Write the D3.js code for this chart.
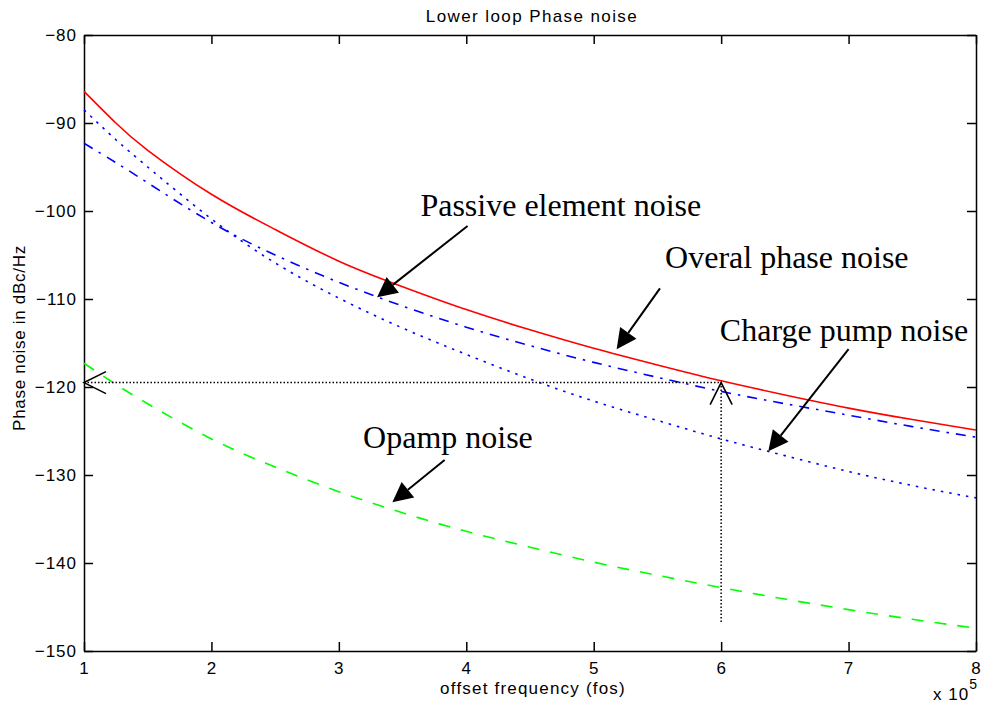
<!DOCTYPE html>
<html>
<head>
<meta charset="utf-8">
<script src="https://cdn.jsdelivr.net/npm/d3@7"></script>
<style>
  body { margin: 0; background: #fff; }
  svg { display: block; }
</style>
</head>
<body>
<div id="chart"></div>
<script>
// offset frequency in units of 1e5
const freq = [1, 1.25, 1.5, 2, 2.5, 3, 3.5, 4, 4.5, 5, 5.5, 6, 6.5, 7, 7.5, 8];
// phase noise in dBc/Hz
const overall = [-86.4, -90.0, -93.1, -98.1, -102.1, -105.7, -108.6, -111.2, -113.5, -115.6, -117.5, -119.3, -120.9, -122.4, -123.7, -124.9];
const passive = [-92.3, -94.5, -96.8, -101.3, -105.0, -108.1, -110.8, -113.2, -115.3, -117.2, -118.9, -120.5, -121.9, -123.2, -124.5, -125.7];
const chargePump = [-88.5, -91.9, -95.0, -100.9, -105.9, -109.9, -113.3, -116.3, -119.1, -121.6, -123.8, -125.9, -127.8, -129.6, -131.2, -132.6];
const opamp = [-117.3, -119.7, -121.9, -125.9, -129.1, -131.9, -134.3, -136.4, -138.2, -139.9, -141.4, -142.8, -144.1, -145.3, -146.4, -147.4];

const xTicks = [1, 2, 3, 4, 5, 6, 7, 8];
const yTicks = [-150, -140, -130, -120, -110, -100, -90, -80];

// callouts: text anchor and arrow (start -> tip), in data units
const labels = ["Passive element noise", "Overal phase noise", "Charge pump noise", "Opamp noise"];
const labelPos = [[3.64, -100.6], [5.56, -106.5], [5.99, -114.8], [3.19, -126.9]];
const arrowFrom = [[4.01, -101.7], [5.52, -108.8], [7.0, -115.7], [3.83, -128.3]];
const arrowTo = [[3.30, -109.8], [5.18, -115.7], [6.37, -127.3], [3.42, -133.1]];

// the -120 dBc/Hz read-off point
const markF = 6, markV = -119.5, markBottom = -146.7;

const width = 983, height = 704,
      margin = ({ top: 35, right: 7, bottom: 53, left: 84 });

const svg = d3.select("#chart")
    .append("svg")
    .attr("width", width)
    .attr("height", height)
    .attr("viewBox", [0, 0, width, height]);

const x = d3.scaleLinear()
    .domain([1, 8])
    .range([margin.left, width - margin.right]);

const y = d3.scaleLinear()
    .domain([-150, -80])
    .range([height - margin.bottom, margin.top]);

const axisFont = "'Liberation Sans', Arial, sans-serif";
const tick = 9;

function styleAxis(g) {
    g.attr("font-family", axisFont).attr("font-size", 17);
    g.selectAll("text").attr("fill", "#000").attr("letter-spacing", 1);
    g.selectAll("line").attr("stroke", "#000").attr("stroke-width", 1.5);
    g.select(".domain").attr("stroke", "#000").attr("stroke-width", 1.5);
}

// bottom + left with labels, ticks pointing inwards
svg.append("g")
    .attr("transform", `translate(0,${y(-150)})`)
    .call(d3.axisBottom(x).tickValues(xTicks).tickFormat(d3.format("d"))
        .tickSizeInner(-tick).tickSizeOuter(0).tickPadding(11))
    .call(styleAxis);

svg.append("g")
    .attr("transform", `translate(${x(1)},0)`)
    .call(d3.axisLeft(y).tickValues(yTicks).tickSizeInner(-tick).tickSizeOuter(0).tickPadding(7))
    .call(styleAxis);

// top + right, box only
svg.append("g")
    .attr("transform", `translate(0,${y(-80)})`)
    .call(d3.axisTop(x).tickValues(xTicks).tickSizeInner(-tick).tickSizeOuter(0).tickFormat(""))
    .call(styleAxis);

svg.append("g")
    .attr("transform", `translate(${x(8)},0)`)
    .call(d3.axisRight(y).tickValues(yTicks).tickSizeInner(-tick).tickSizeOuter(0).tickFormat(""))
    .call(styleAxis);

// noise curves
const series = [
    { values: opamp, color: "#00ff00", dash: "12,11" },
    { values: chargePump, color: "#0000ff", dash: "2.5,6" },
    { values: passive, color: "#0000ff", dash: "10,7,2.5,7" },
    { values: overall, color: "#ff0000", dash: null }
];

const line = d3.line()
    .x((d, i) => x(freq[i]))
    .y(d => y(d))
    .curve(d3.curveNatural);

svg.selectAll(".curve")
    .data(series)
    .join("path")
    .attr("class", "curve")
    .attr("fill", "none")
    .attr("stroke", d => d.color)
    .attr("stroke-width", 1.6)
    .attr("stroke-dasharray", d => d.dash)
    .attr("d", d => line(d.values));

// dotted read-off lines
svg.append("path")
    .attr("fill", "none")
    .attr("stroke", "#000")
    .attr("stroke-width", 1.5)
    .attr("stroke-dasharray", "1.5,2")
    .attr("d", `M${x(1)},${y(markV)}H${x(markF)}M${x(markF)},${y(markV)}V${y(markBottom)}`);

// open arrowheads at the axis and at the curve
const px = x(1), py = y(markV), qx = x(markF), qy = y(markV);
svg.append("path")
    .attr("fill", "none")
    .attr("stroke", "#000")
    .attr("stroke-width", 1.6)
    .attr("d", `M${px + 22},${py - 11}L${px},${py}L${px + 22},${py + 11}` +
               `M${qx - 11},${qy + 22}L${qx},${qy}L${qx + 11},${qy + 22}`);

// callout arrows
const arrows = svg.append("g");
arrowFrom.forEach((a, i) => {
    const x1 = x(a[0]), y1 = y(a[1]);
    const x2 = x(arrowTo[i][0]), y2 = y(arrowTo[i][1]);
    const ang = Math.atan2(y2 - y1, x2 - x1);
    const len = 20, hw = 10;
    const bx = x2 - len * Math.cos(ang), by = y2 - len * Math.sin(ang);
    const nx = -Math.sin(ang) * hw, ny = Math.cos(ang) * hw;
    arrows.append("line")
        .attr("x1", x1).attr("y1", y1)
        .attr("x2", bx).attr("y2", by)
        .attr("stroke", "#000")
        .attr("stroke-width", 2);
    arrows.append("polygon")
        .attr("points", [[x2, y2], [bx + nx, by + ny], [bx - nx, by - ny]].map(p => p.join(",")).join(" "))
        .attr("fill", "#000");
});

svg.selectAll(".callout")
    .data(labels)
    .join("text")
    .attr("class", "callout")
    .attr("x", (d, i) => x(labelPos[i][0]))
    .attr("y", (d, i) => y(labelPos[i][1]))
    .attr("font-family", "'Liberation Serif', 'Times New Roman', serif")
    .attr("font-size", 32)
    .attr("fill", "#000")
    .text(d => d);

// title and axis titles
svg.append("text")
    .attr("x", 532)
    .attr("y", 22)
    .attr("text-anchor", "middle")
    .attr("font-family", axisFont)
    .attr("font-size", 17)
    .attr("letter-spacing", 1.4)
    .text("Lower loop Phase noise");

svg.append("text")
    .attr("x", 533)
    .attr("y", 694)
    .attr("text-anchor", "middle")
    .attr("font-family", axisFont)
    .attr("font-size", 17)
    .attr("letter-spacing", 1.2)
    .text("offset frequency (fos)");

svg.append("text")
    .attr("transform", `translate(25,338) rotate(-90)`)
    .attr("text-anchor", "middle")
    .attr("font-family", axisFont)
    .attr("font-size", 17)
    .attr("letter-spacing", 0.7)
    .text("Phase noise in dBc/Hz");

const expo = svg.append("text")
    .attr("x", 933)
    .attr("y", 700)
    .attr("font-family", axisFont)
    .attr("font-size", 17)
    .attr("letter-spacing", 1);
expo.append("tspan").text("x 10");
expo.append("tspan").attr("font-size", 14).attr("dy", -11).text("5");
</script>
</body>
</html>
